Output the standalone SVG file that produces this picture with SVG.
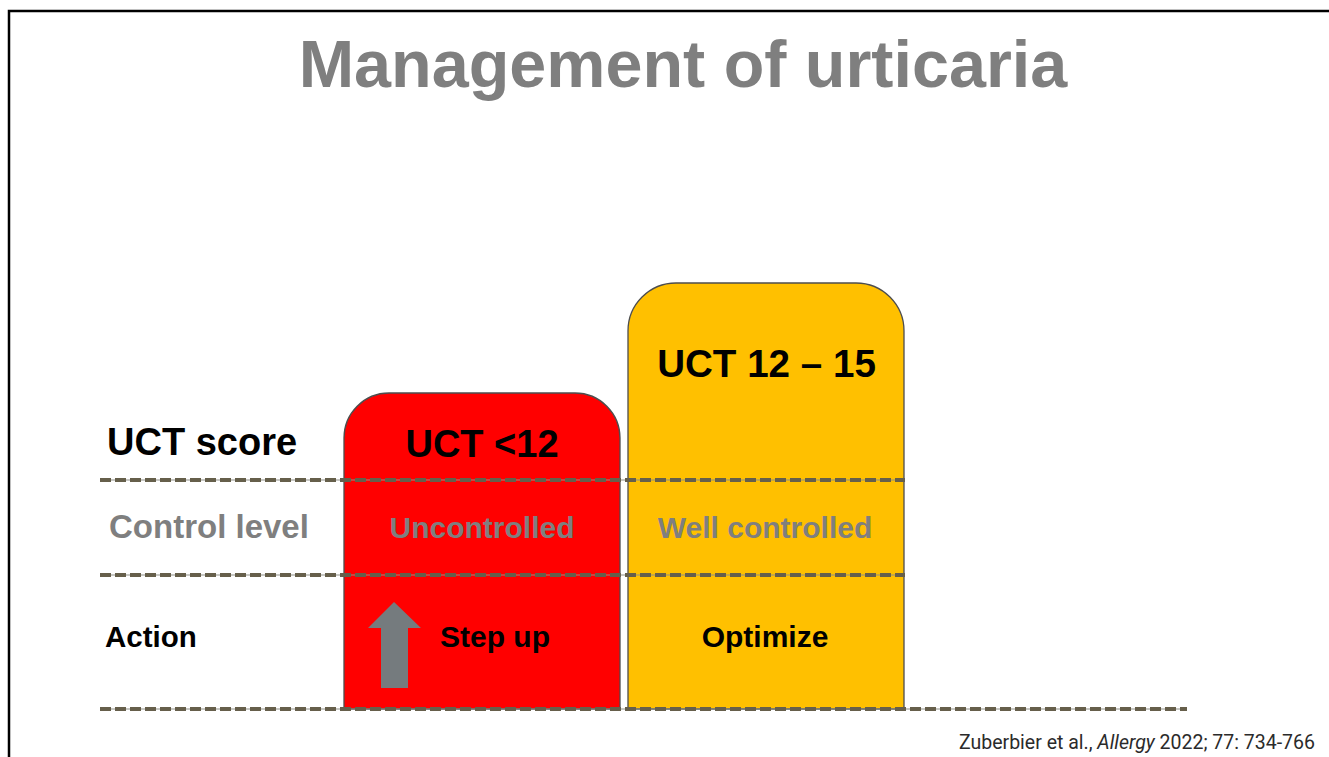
<svg xmlns="http://www.w3.org/2000/svg" width="1329" height="757" viewBox="0 0 1329 757">
  <style>
    .b { font-family: "Liberation Sans", Arial, sans-serif; font-weight: bold; }
    .grey { fill: #7f7f7f; }
    .blk { fill: #000000; }
    .box { stroke: #4d4d4d; stroke-width: 1.3; }
    .dash { stroke: #665f4b; stroke-width: 4; stroke-dasharray: 11 4; fill: none; }
    .thin { stroke: #8f8f88; stroke-width: 1.2; fill: none; }
  </style>
  <rect x="0" y="0" width="1329" height="757" fill="#ffffff"/>
  <path d="M9 757 V11 H1329" fill="none" stroke="#000000" stroke-width="2.5"/>

  <text x="683" y="87" text-anchor="middle" class="b grey" font-size="66.5">Management of urticaria</text>

  <g id="labels">
    <text x="107" y="455" class="b blk" font-size="38">UCT score</text>
    <text x="109" y="538" class="b grey" font-size="33">Control level</text>
    <text x="105" y="647" class="b blk" font-size="29.5">Action</text>
  </g>

  <g id="uncontrolled">
    <path class="box" fill="#ff0000" d="M344 709 V438 A45 45 0 0 1 389 393 H575 A45 45 0 0 1 620 438 V709 Z"/>
    <text x="482" y="457" text-anchor="middle" class="b blk" font-size="38">UCT &lt;12</text>
    <text x="482" y="538" text-anchor="middle" class="b grey" font-size="30">Uncontrolled</text>
    <polygon points="394,602 421,628 408,628 408,688 381,688 381,628 368,628" fill="#757b7e"/>
    <text x="495" y="647" text-anchor="middle" class="b blk" font-size="30">Step up</text>
  </g>

  <g id="well-controlled">
    <path class="box" fill="#ffc000" d="M628 709 V331 A48 48 0 0 1 676 283 H856 A48 48 0 0 1 904 331 V709 Z"/>
    <text x="766.5" y="377" text-anchor="middle" class="b blk" font-size="38.6">UCT 12 – 15</text>
    <text x="765" y="538" text-anchor="middle" class="b grey" font-size="30">Well controlled</text>
    <text x="765" y="647" text-anchor="middle" class="b blk" font-size="30">Optimize</text>
  </g>

  <g id="connectors">
    <line class="thin" x1="100" y1="480" x2="905" y2="480"/>
    <line class="dash" x1="100" y1="480" x2="905" y2="480"/>
    <line class="thin" x1="100" y1="575" x2="905" y2="575"/>
    <line class="dash" x1="100" y1="575" x2="905" y2="575"/>
    <line class="thin" x1="100" y1="709" x2="1187" y2="709"/>
    <line class="dash" x1="100" y1="709" x2="1187" y2="709"/>
  </g>

  <text x="1315" y="749" text-anchor="end" font-family="Roboto, 'Liberation Sans', sans-serif" font-size="19.5" fill="#2b2b2b">Zuberbier et al., <tspan font-style="italic">Allergy</tspan> 2022; 77: 734-766</text>
</svg>
